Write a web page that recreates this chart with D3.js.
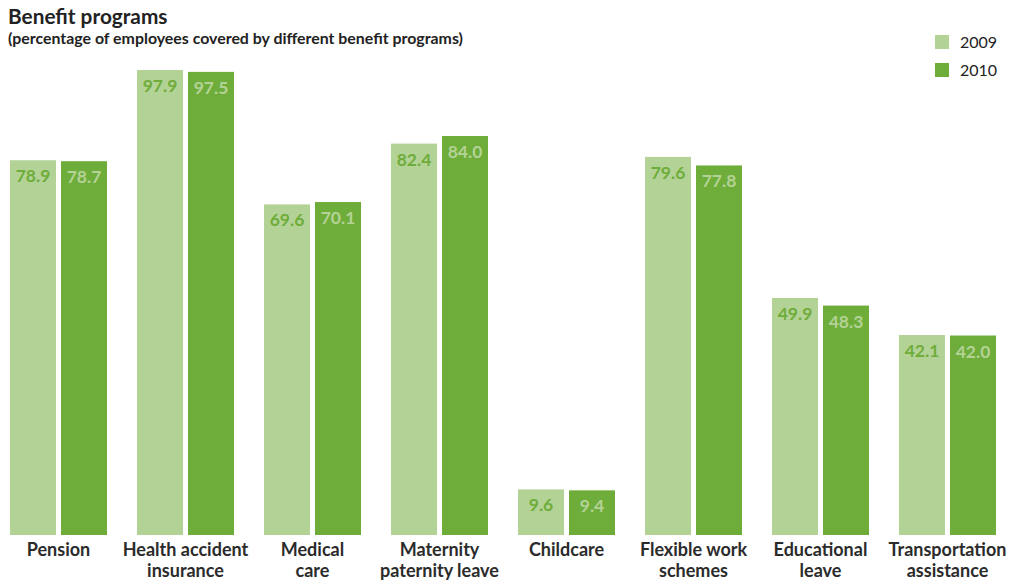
<!DOCTYPE html>
<html><head><meta charset="utf-8">
<script src="https://cdn.jsdelivr.net/npm/d3@7"></script>
<style>body{margin:0;background:#fff;} svg{display:block;}</style>
</head><body>
<svg id="c" width="1011" height="581"></svg>
<script>
const categories = ["Pension","Health accident\ninsurance","Medical\ncare","Maternity\npaternity leave","Childcare","Flexible work\nschemes","Educational\nleave","Transportation\nassistance"];
const series = ["2009","2010"];
const values2009 = [78.9,97.9,69.6,82.4,9.6,79.6,49.9,42.1];
const values2010 = [78.7,97.5,70.1,84.0,9.4,77.8,48.3,42.0];
const colors = {"2009":"#b3d296","2010":"#6fad3a"};
const labelColors = {"2009":"#6fad3a","2010":"#b3d296"};
const font = "Lato, sans-serif";

const svg = d3.select("#c");
const x0 = d3.scaleBand().domain(categories).range([-5, 1011]).paddingInner(30/127).paddingOuter(15/127);
const x = d3.scaleBand().domain(series).range([0, x0.bandwidth()]).paddingInner(5/51);
const y = d3.scaleLinear().domain([0,100]).range([535,60]);

const data = categories.map((c,i)=>({cat:c, vals:[{s:"2009",v:values2009[i]},{s:"2010",v:values2010[i]}]}));

const g = svg.append("g").selectAll("g").data(data).join("g")
  .attr("transform", d=>`translate(${x0(d.cat)},0)`);
g.selectAll("rect").data(d=>d.vals).join("rect")
  .attr("x", d=>x(d.s)).attr("width", x.bandwidth())
  .attr("y", d=>y(d.v)).attr("height", d=>y(0)-y(d.v))
  .attr("fill", d=>colors[d.s]);
g.selectAll("text.v").data(d=>d.vals).join("text").attr("class","v")
  .attr("x", d=>x(d.s)+x.bandwidth()/2).attr("y", d=>y(d.v)+22)
  .attr("text-anchor","middle").attr("font-family",font).attr("font-weight","bold")
  .attr("font-size",17.5).attr("fill", d=>labelColors[d.s])
  .text(d=>d.v.toFixed(1));

// x axis labels
const xl = svg.append("g");
categories.forEach(c=>{
  const cx = x0(c)+x0.bandwidth()/2;
  const t = xl.append("text").attr("x", cx).attr("y",556)
    .attr("text-anchor","middle").attr("font-family",font).attr("font-weight","bold")
    .attr("font-size",18).attr("fill","#2b2b2b");
  c.split("\n").forEach((line,i)=>{
    t.append("tspan").attr("x", cx).attr("dy", i===0?0:20.5).text(line);
  });
});

// title
svg.append("text").attr("x",8).attr("y",24).attr("font-family",font).attr("font-weight","bold")
  .attr("font-size",20.8).attr("fill","#222").text("Benefit programs");
svg.append("text").attr("x",8).attr("y",44).attr("font-family",font).attr("font-weight","bold")
  .attr("font-size",15.9).attr("fill","#222").text("(percentage of employees covered by different benefit programs)");

// legend
const lg = svg.append("g").selectAll("g").data(series).join("g")
  .attr("transform",(d,i)=>`translate(935,${35+i*28})`);
lg.append("rect").attr("width",14).attr("height",14).attr("fill",d=>colors[d]);
lg.append("text").attr("x",25).attr("y",13).attr("font-family",font).attr("font-size",16)
  .attr("fill","#222").text(d=>d);
</script>
</body></html>
